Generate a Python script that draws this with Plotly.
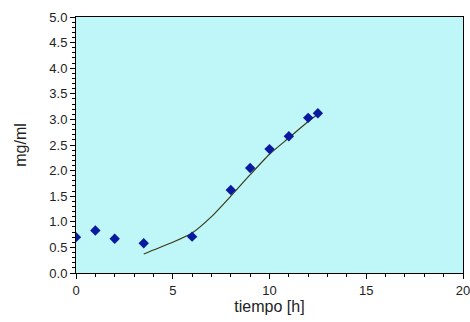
import plotly.graph_objects as go

t_obs = [0, 1, 2, 3.5, 6, 8, 9, 10, 11, 12, 12.5]
c_obs = [0.70, 0.83, 0.67, 0.58, 0.71, 1.62, 2.05, 2.42, 2.67, 3.03, 3.12]

t_fit = [3.5, 4, 5, 6, 7, 8, 9, 10, 11, 12, 12.5]
c_fit = [0.37, 0.45, 0.60, 0.78, 1.10, 1.50, 1.92, 2.32, 2.64, 2.96, 3.10]

x_ticks = [0, 5, 10, 15, 20]
y_ticks = [0, 0.5, 1, 1.5, 2, 2.5, 3, 3.5, 4, 4.5, 5]

fig = go.Figure()
fig.add_trace(go.Scatter(x=t_fit, y=c_fit, mode="lines",
                         line=dict(color="#3a3a1a", width=1.2, shape="spline", smoothing=0.6),
                         showlegend=False, hoverinfo="skip"))
fig.add_trace(go.Scatter(x=t_obs, y=c_obs, mode="markers",
                         marker=dict(symbol="diamond", size=8, color="#0a1aa0"),
                         showlegend=False))

font = dict(family="Liberation Sans, Arial", size=13, color="#222222")
fig.update_layout(
    width=470, height=322,
    margin=dict(l=76, r=7, t=17, b=49, autoexpand=False),
    paper_bgcolor="white", plot_bgcolor="#bff7f8",
    font=font,
    xaxis=dict(range=[0, 20], tickvals=x_ticks, ticktext=[str(v) for v in x_ticks],
               showgrid=False, zeroline=False, ticks="outside", ticklen=5,
               tickcolor="black", showline=True, linecolor="black", linewidth=1, mirror=True,
               ticklabeloverflow="allow",
               minor=dict(dtick=1, ticks="outside", ticklen=3, tickcolor="black"),
               title=dict(text="tiempo [h]", standoff=2)),
    yaxis=dict(range=[0, 5], tickvals=y_ticks, ticktext=[f"{v:.1f}" for v in y_ticks],
               showgrid=False, zeroline=False, ticks="outside", ticklen=5,
               tickcolor="black", showline=True, linecolor="black", linewidth=1, mirror=True,
               minor=dict(dtick=0.1, ticks="outside", ticklen=3, tickcolor="black"),
               title=dict(text="mg/ml", standoff=18)),
)

fig.write_html("out.html", config={"displayModeBar": False},
               post_script="document.body.style.margin='0px';")
